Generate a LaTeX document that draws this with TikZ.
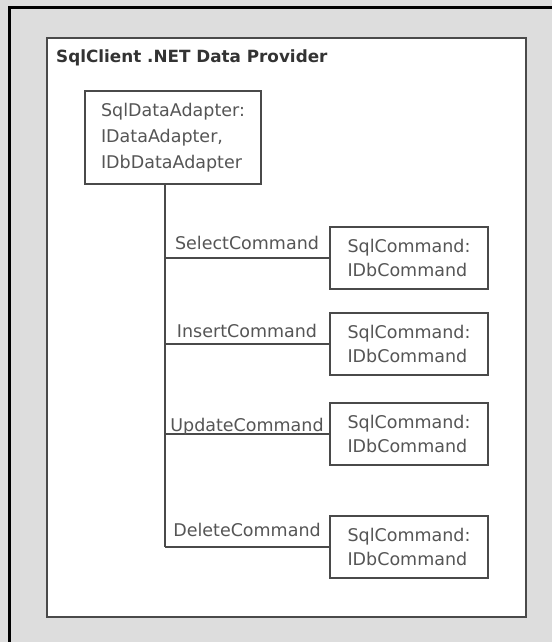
\documentclass[tikz,border=0pt]{standalone}
\usepackage{fontspec}
\setmainfont{DejaVu Sans}
\definecolor{PanelGray}{HTML}{DDDDDD}
\definecolor{LineGray}{HTML}{4A4A4A}
\definecolor{TextGray}{HTML}{555555}
\tikzset{
  classbox/.style={draw=LineGray, line width=2pt, fill=white, text=TextGray, align=left, inner sep=0pt},
  link/.style={draw=LineGray, line width=2pt},
  rolelabel/.style={text=TextGray, anchor=base, inner sep=0pt}
}
\begin{document}
\begin{tikzpicture}[x=1pt, y=-1pt, font=\fontsize{17.5}{26}\selectfont]
        \useasboundingbox (0,0) rectangle (552,642);

        % 1. Background, frame and provider panel
        \fill[PanelGray] (0,0) rectangle (552,642);
        \draw[black, line width=3pt] (9,642) -- (9,8) -- (552,8);
        \draw[LineGray, line width=2pt, fill=white] (47,38) rectangle (526,617);
        \node[anchor=base west, inner sep=0pt, text=black!80, font=\fontsize{16.8}{20}\selectfont\bfseries] (title) at (56,63) {SqlClient .NET Data Provider};

        % 2. The data adapter
        \node[classbox, minimum width=176pt, minimum height=93pt, anchor=north west] (adapter) at (84,90) {
            SqlDataAdapter:\\
            IDataAdapter,\\
            IDbDataAdapter
        };

        % 3. Command objects and their links
        \coordinate (bus) at (165,546.5);
        \draw[link] (adapter.south -| bus) -- (bus);
        \foreach \name/\y/\lift in {Select/258/9, Insert/343.5/6, Update/434/3, Delete/546.5/10} {
            \node[classbox, minimum width=158pt, minimum height=62pt, font=\fontsize{17.5}{24}\selectfont] (cmd\name) at (409,\y) {SqlCommand:\\IDbCommand};
            \draw[link] (cmd\name.west -| bus) -- (cmd\name.west) node[midway, rolelabel, yshift=\lift pt] {\name Command};
        }

    \end{tikzpicture}
\end{document}
